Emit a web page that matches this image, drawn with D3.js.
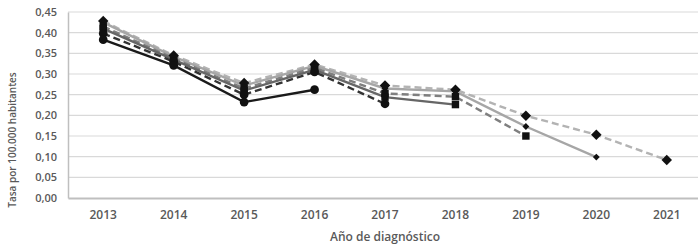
<!DOCTYPE html>
<html>
<head>
<meta charset="utf-8">
<script src="https://cdn.jsdelivr.net/npm/d3@7"></script>
<style>
  body { margin: 0; background: #fff; }
  svg text { font-family: "Open Sans", "Noto Sans", sans-serif; fill: #595959; }
</style>
</head>
<body>
<div id="chart"></div>
<script>
// years on the x axis
var years = ["2013", "2014", "2015", "2016", "2017", "2018", "2019", "2020", "2021"];
var yTicks = [0, 0.05, 0.10, 0.15, 0.20, 0.25, 0.30, 0.35, 0.40, 0.45];

// one array per series
var serie1 = [0.383, 0.321, 0.232, 0.262];
var serie2 = [0.398, 0.330, 0.250, 0.305, 0.228];
var serie3 = [0.410, 0.335, 0.260, 0.310, 0.244, 0.226];
var serie4 = [0.415, 0.338, 0.265, 0.315, 0.253, 0.245, 0.150];
var serie5 = [0.425, 0.342, 0.272, 0.320, 0.265, 0.258, 0.173, 0.099];
var serie6 = [0.428, 0.345, 0.278, 0.323, 0.272, 0.262, 0.199, 0.153, 0.092];

var series = [
  {values: serie1, color: "#1a1a1a", dash: null,  symbol: d3.symbolCircle,   size: 60},
  {values: serie2, color: "#333333", dash: "7,4", symbol: d3.symbolCircle,   size: 60},
  {values: serie3, color: "#666666", dash: null,  symbol: d3.symbolSquare,   size: 55},
  {values: serie4, color: "#7f7f7f", dash: "7,4", symbol: d3.symbolSquare,   size: 55},
  {values: serie5, color: "#a6a6a6", dash: null,  symbol: d3.symbolDiamond2, size: 30},
  {values: serie6, color: "#b3b3b3", dash: "7,4", symbol: d3.symbolDiamond2, size: 70}
];

var W = 698, H = 245;
var margin = {top: 12, right: -4, bottom: 47, left: 68},
    width = W - margin.left - margin.right,
    height = H - margin.top - margin.bottom;

var svg = d3.select("#chart").append("svg")
    .attr("width", W)
    .attr("height", H);

var g = svg.append("g")
    .attr("transform", "translate(" + margin.left + "," + margin.top + ")");

var x = d3.scaleBand().domain(years).range([0, width]);
var y = d3.scaleLinear().domain([0, 0.45]).range([height, 0]);

//gridlines
g.selectAll(".grid").data(yTicks.slice(1)).enter().append("line")
    .attr("x1", 0).attr("x2", width)
    .attr("y1", function(d){ return y(d); })
    .attr("y2", function(d){ return y(d); })
    .attr("stroke", "#d9d9d9").attr("stroke-width", 1.2);

//y axis
var fmt = function(d){ return d3.format(".2f")(d).replace(".", ","); };
var yAxis = g.append("g")
    .call(d3.axisLeft(y).tickValues(yTicks).tickFormat(fmt).tickSize(0).tickPadding(11));
yAxis.select(".domain").attr("stroke", "#bfbfbf").attr("stroke-width", 1.5);
yAxis.selectAll("text").style("font-size", "11px").style("font-weight", 600).attr("fill", "#595959");

//x axis
var xAxis = g.append("g")
    .attr("transform", "translate(0," + height + ")")
    .call(d3.axisBottom(x).tickSize(0).tickPadding(12));
xAxis.select(".domain").attr("stroke", "#bfbfbf").attr("stroke-width", 2);
xAxis.selectAll("text").style("font-size", "12px").style("font-weight", 600).attr("fill", "#595959");

//lines
var line = d3.line()
    .x(function(d, i){ return x(years[i]) + x.bandwidth() / 2; })
    .y(function(d){ return y(d); });

series.slice().reverse().forEach(function(s) {
  g.append("path")
      .datum(s.values)
      .attr("fill", "none")
      .attr("stroke", s.color)
      .attr("stroke-width", 2.4)
      .attr("stroke-dasharray", s.dash)
      .attr("d", line);
});

//markers
series.slice().reverse().forEach(function(s) {
  g.selectAll(null).data(s.values).enter().append("path")
      .attr("d", d3.symbol().type(s.symbol).size(s.size))
      .attr("transform", function(d, i){
        return "translate(" + (x(years[i]) + x.bandwidth() / 2) + "," + y(d) + ")";
      })
      .attr("fill", "#111");
});

//axis titles
svg.append("text")
    .attr("x", 385).attr("y", 241)
    .attr("text-anchor", "middle")
    .style("font-size", "12px").style("font-weight", 600)
    .text("Año de diagnóstico");

svg.append("text")
    .attr("transform", "translate(16,140) rotate(-90)")
    .attr("text-anchor", "middle")
    .style("font-size", "10px").style("font-weight", 600)
    .text("Tasa por 100.000 habitantes");
</script>
</body>
</html>
